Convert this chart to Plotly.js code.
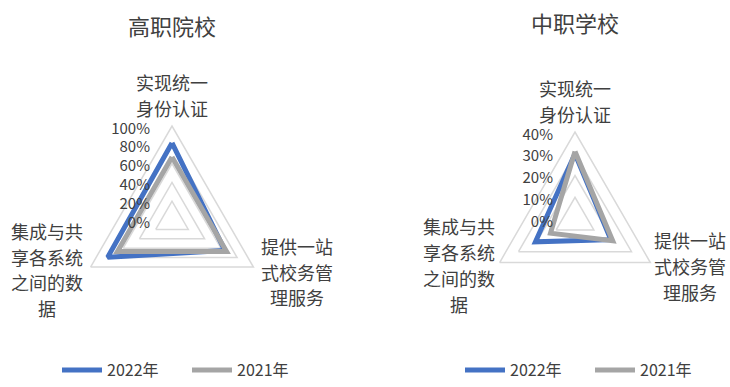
<!DOCTYPE html>
<html>
<head>
<meta charset="utf-8">
<script src="https://cdn.plot.ly/plotly-3.0.1.min.js"></script>
<style>html,body{margin:0;padding:0;background:#fff;}#chart{width:730px;height:387px;}</style>
</head>
<body>
<div id="chart"></div>
<script>
// Categories and their wrapped labels (as in the original)
const categories = ['实现统一身份认证', '提供一站式校务管理服务', '集成与共享各系统之间的数据'];
const categoryLabels = ['实现统一<br>身份认证', '提供一站<br>式校务管<br>理服务', '集成与共<br>享各系统<br>之间的数<br>据'];
const seriesNames = ['2022年', '2021年'];
// 高职院校 (percent)
const gaozhi2022 = [82, 65, 79];
const gaozhi2021 = [67, 67, 67];
// 中职学校 (percent)
const zhongzhi2022 = [30, 19, 21];
const zhongzhi2021 = [31, 20, 13];
const chartTitles = ['高职院校', '中职学校'];

const FONT = '"Noto Sans CJK SC", "Noto Sans", sans-serif';
const BLUE = '#4472C4', GRAY = '#A5A5A5', GRID = '#D9D9D9', TXT = '#404040';

function closeLoop(a) { return a.concat([a[0]]); }

const traces = [
  {type: 'scatterpolar', mode: 'lines', name: seriesNames[0], r: closeLoop(gaozhi2022), theta: closeLoop(categories),
   subplot: 'polar', legend: 'legend', line: {color: BLUE, width: 5}, hoverinfo: 'skip'},
  {type: 'scatterpolar', mode: 'lines', name: seriesNames[1], r: closeLoop(gaozhi2021), theta: closeLoop(categories),
   subplot: 'polar', legend: 'legend', line: {color: GRAY, width: 5}, hoverinfo: 'skip'},
  {type: 'scatterpolar', mode: 'lines', name: seriesNames[0], r: closeLoop(zhongzhi2022), theta: closeLoop(categories),
   subplot: 'polar2', legend: 'legend2', line: {color: BLUE, width: 5}, hoverinfo: 'skip'},
  {type: 'scatterpolar', mode: 'lines', name: seriesNames[1], r: closeLoop(zhongzhi2021), theta: closeLoop(categories),
   subplot: 'polar2', legend: 'legend2', line: {color: GRAY, width: 5}, hoverinfo: 'skip'}
];

function polarCfg(domain, range, dtick) {
  return {
    domain: domain,
    gridshape: 'linear',
    bgcolor: 'rgba(0,0,0,0)',
    radialaxis: {range: range, dtick: dtick, ticksuffix: '%', angle: 90, side: 'counterclockwise', showline: false,
      ticks: 'outside', ticklen: 8, tickcolor: 'rgba(0,0,0,0)',
      gridcolor: GRID, gridwidth: 1.5, tickfont: {family: FONT, size: 15, color: TXT}},
    angularaxis: {rotation: 90, direction: 'clockwise', showgrid: false, ticks: '', showticklabels: false,
      linecolor: GRID, linewidth: 1.5}
  };
}

const W = 730, H = 387;
function dom(cx, cy, r) {
  return {x: [(cx - r) / W, (cx + r) / W], y: [1 - (cy + r) / H, 1 - (cy - r) / H]};
}

const legendBase = {orientation: 'h', yanchor: 'bottom', xanchor: 'left', font: {family: FONT, size: 16, color: TXT},
  bgcolor: 'rgba(0,0,0,0)', entrywidth: 75, entrywidthmode: 'pixels', itemwidth: 40};

// category label placement: centre x and first-line y of each wrapped label, plus line spacing (pixels)
const labelPos = [
  [[172, 82, 25.5], [297, 246, 25.5], [47, 231, 25.5]],
  [[575, 88, 26], [690, 240, 26], [459, 226, 26]]
];

const annotations = [
  {text: chartTitles[0], x: 172 / W, y: 1 - 25 / H},
  {text: chartTitles[1], x: 575 / W, y: 1 - 22 / H}
].map(a => Object.assign(a, {xref: 'paper', yref: 'paper', showarrow: false, xanchor: 'center', yanchor: 'middle',
  font: {family: FONT, size: 22, color: '#404040'}}));

labelPos.forEach(chart => chart.forEach((p, i) => {
  categoryLabels[i].split('<br>').forEach((line, k) => {
    annotations.push({text: line, x: p[0] / W, y: 1 - (p[1] + k * p[2]) / H, xref: 'paper', yref: 'paper',
      showarrow: false, xanchor: 'center', yanchor: 'middle', align: 'center',
      font: {family: FONT, size: 18, color: TXT}});
  });
}));

const layout = {
  width: W, height: H,
  margin: {l: 0, r: 0, t: 0, b: 0},
  paper_bgcolor: '#fff',
  font: {family: FONT, color: TXT},
  polar: polarCfg(dom(172, 220, 94), [0, 100], 20),
  polar2: polarCfg(dom(575, 219, 87), [0, 40], 10),
  legend: Object.assign({x: 57 / W, y: 0}, legendBase),
  legend2: Object.assign({x: 460 / W, y: 0}, legendBase),
  annotations: annotations
};

Plotly.newPlot('chart', traces, layout, {displayModeBar: false, staticPlot: true});
</script>
</body>
</html>
